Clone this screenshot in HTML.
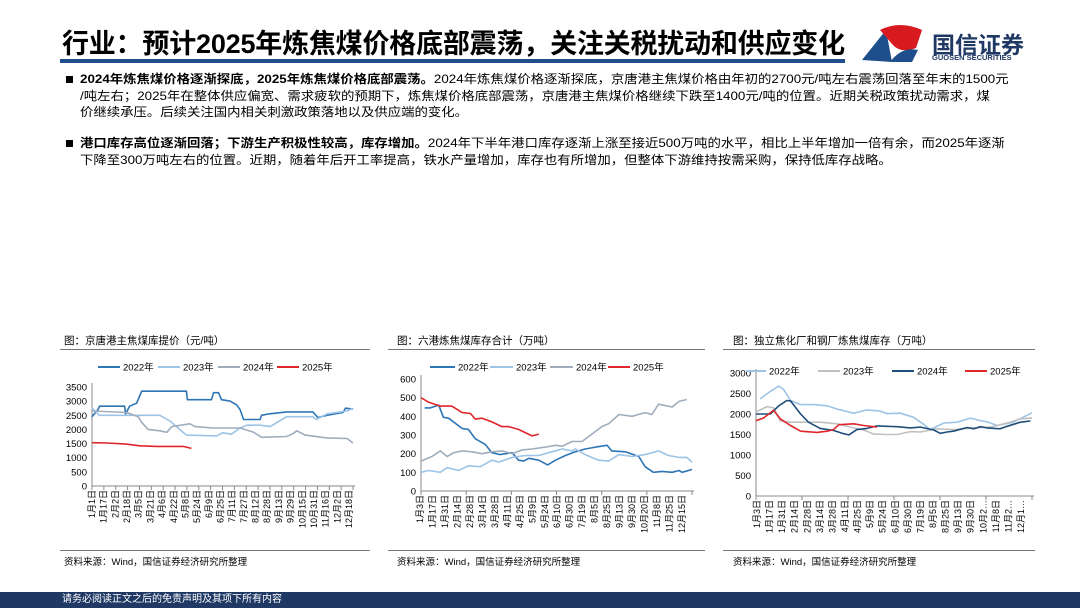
<!DOCTYPE html>
<html><head><meta charset="utf-8">
<style>
body{margin:0;width:1080px;height:608px;overflow:hidden;background:#fff;font-family:"Liberation Sans","Noto Sans CJK SC",sans-serif;position:relative;color:#000}
.abs{position:absolute}
#title{left:62px;top:22px;font-size:27px;font-weight:bold;letter-spacing:-0.2px;white-space:nowrap}
#rule{left:60px;top:59px;width:785px;height:4px;background:#1f4e8c}
.para{left:80px;font-size:12px;line-height:16.5px;white-space:nowrap;transform:scaleX(1.115);transform-origin:0 0}
.bullet{width:7px;height:7px;background:#000;left:66px}
.ctitle{font-size:10.5px;top:333px;white-space:nowrap}
.hl{height:1px;background:#777}
.src{font-size:9.5px;top:554px;white-space:nowrap}
#footer{left:0;top:592px;width:1080px;height:16px;background:#1f3864;color:#fff;font-size:10px;line-height:16px}
svg text{font-family:"Liberation Sans","Noto Sans CJK SC",sans-serif}
</style></head><body>
<div class="abs" id="title">行业：预计2025年炼焦煤价格底部震荡，关注关税扰动和供应变化</div>
<div class="abs" id="rule"></div>
<svg class="abs" style="left:860px;top:22px" width="70" height="42">
<path d="M2 38 L26 8 L32 40 Z" fill="#1f4e8c"/><path d="M20 8 Q40 -2 62 8 L56 26 Q40 32 32 22 Z" fill="#d71920"/><path d="M30 40 Q42 24 58 28 L52 40 Z" fill="#1f4e8c"/>
</svg>
<div class="abs" style="left:932px;top:26px;font-size:23px;font-weight:bold;color:#1f3864">国信证券</div>
<div class="abs" style="left:932px;top:53px;font-size:7.5px;font-weight:bold;color:#1f3864">GUOSEN SECURITIES</div>

<div class="abs bullet" style="top:76px"></div>
<div class="abs para" style="top:71px"><b>2024年炼焦煤价格逐渐探底，2025年炼焦煤价格底部震荡。</b>2024年炼焦煤价格逐渐探底，京唐港主焦煤价格由年初的2700元/吨左右震荡回落至年末的1500元<br>/吨左右；2025年在整体供应偏宽、需求疲软的预期下，炼焦煤价格底部震荡，京唐港主焦煤价格继续下跌至1400元/吨的位置。近期关税政策扰动需求，煤<br>价继续承压。后续关注国内相关刺激政策落地以及供应端的变化。</div>
<div class="abs bullet" style="top:140px"></div>
<div class="abs para" style="top:135px"><b>港口库存高位逐渐回落；下游生产积极性较高，库存增加。</b>2024年下半年港口库存逐渐上涨至接近500万吨的水平，相比上半年增加一倍有余，而2025年逐渐<br>下降至300万吨左右的位置。近期，随着年后开工率提高，铁水产量增加，库存也有所增加，但整体下游维持按需采购，保持低库存战略。</div>

<div class="abs ctitle" style="left:64px">图：京唐港主焦煤库提价（元/吨）</div>
<div class="abs ctitle" style="left:397px">图：六港炼焦煤库存合计（万吨）</div>
<div class="abs ctitle" style="left:733px">图：独立焦化厂和钢厂炼焦煤库存（万吨）</div>
<div class="abs hl" style="left:60px;top:349px;width:310px"></div>
<div class="abs hl" style="left:388px;top:349px;width:317px"></div>
<div class="abs hl" style="left:723px;top:349px;width:312px"></div>
<div class="abs hl" style="left:60px;top:550px;width:310px"></div>
<div class="abs hl" style="left:388px;top:550px;width:317px"></div>
<div class="abs hl" style="left:723px;top:550px;width:312px"></div>
<div class="abs src" style="left:64px">资料来源：Wind，国信证券经济研究所整理</div>
<div class="abs src" style="left:397px">资料来源：Wind，国信证券经济研究所整理</div>
<div class="abs src" style="left:733px">资料来源：Wind，国信证券经济研究所整理</div>

<svg class="abs" id="charts" style="left:0;top:0" width="1080" height="608"></svg>
<div class="abs" id="footer"><span style="margin-left:62px">请务必阅读正文之后的免责声明及其项下所有内容</span></div>

<script>
const seriesNames=["2022年","2023年","2024年","2025年"];
// Chart 1: price (week-of-year, value)
const c1Labels=["1月1日","1月17日","2月2日","2月18日","3月5日","3月21日","4月6日","4月22日","5月8日","5月24日","6月9日","6月25日","7月11日","7月27日","8月12日","8月28日","9月13日","9月29日","10月15日","10月31日","11月16日","12月2日","12月18日"];
const c1Ticks=[0,500,1000,1500,2000,2500,3000,3500];
const c1W2022=[0,1.2,1.5,6.5,6.7,7.5,8.9,9.9,18.8,19,23.8,24.2,25.2,25.8,27.5,28.8,29.5,30.2,33.5,33.8,35.2,38.8,44,45,46.8,50,50.5,52];
const c1V2022=[2450,2700,2820,2820,2550,2820,2930,3350,3350,3050,3050,3300,3300,3050,3000,2870,2700,2350,2350,2500,2550,2620,2620,2420,2500,2600,2750,2720];
const c1W2023=[0,1.5,13.5,15.5,16.5,18.8,24.8,26,27.8,29.5,30.8,33.5,35.5,38.8,44,44.7,46.8,50.8,52];
const c1V2023=[2750,2500,2500,2300,2150,1800,1770,1880,1830,2050,2150,2150,2100,2450,2450,2350,2550,2650,2750];
const c1W2024=[0,6.9,9.2,9.9,11.2,13.5,14.9,15.9,19.5,20.5,24.2,29.5,32.2,33.8,38.8,40,40.8,42.5,46.8,50.8,52];
const c1V2024=[2650,2600,2450,2250,2000,1950,1900,2100,2200,2100,2050,2050,1900,1720,1750,1850,1950,1800,1700,1680,1520];
const c1W2025=[0,2.9,6.9,9.5,12.9,18.2,19.8];
const c1V2025=[1530,1520,1480,1420,1400,1400,1330];
// Chart 2: six-port inventory
const c2Labels=["1月3日","1月17日","1月31日","2月14日","2月28日","3月14日","3月28日","4月11日","4月25日","5月9日","5月24日","6月10日","6月30日","7月19日","8月5日","8月25日","9月13日","9月30日","10月20日","11月8日","11月25日","12月15日"];
const c2Ticks=[0,100,200,300,400,500,600];
const c2W2022=[0.7,1.8,3.4,4.3,5.3,7.9,9.1,10.4,12.3,13.6,15.2,17.5,18.7,19.7,20.7,22.6,24.3,25.8,27.7,29.6,31.5,33.5,35.7,36.6,39.2,41.8,43,44.6,46.3,48.2,49.5,50.1,52];
const c2V2022=[445,445,460,395,390,335,330,280,250,205,195,205,165,160,175,165,140,165,190,210,225,235,245,215,210,185,130,100,105,100,110,100,115];
const c2W2023=[0,1.5,3.7,5,7.2,9.1,11.4,13.6,14.9,17.5,20,22.6,25.1,27.1,29,29.6,31.5,34.1,36,38,40.5,43,45.6,47.5,49.5,51,52];
const c2V2023=[100,110,100,125,110,135,130,165,155,180,190,190,210,225,215,225,195,165,160,195,185,195,215,190,180,180,155];
const c2W2024=[0,2.1,3.7,5,6.3,7.9,9.8,11.7,13.6,15.5,17.5,19.4,21.3,23.9,25.8,27.1,29,30.9,32.8,34.7,36,38,40.5,43,44.3,45.6,48.2,49.5,51];
const c2V2024=[160,185,215,185,205,215,210,200,210,215,200,220,225,235,245,240,265,265,305,345,360,410,400,420,410,465,450,480,490];
const c2W2025=[0,1.5,3.7,5.9,7.9,9.5,10.4,11.7,13.6,15.5,16.8,18.7,21.3,22.6];
const c2V2025=[500,475,455,455,420,415,385,390,370,345,345,330,295,305];
// Chart 3: coking plants & mills inventory
const c3Labels=["1月3日","1月17日","1月31日","2月14日","2月28日","3月14日","3月28日","4月11日","4月25日","5月9日","5月24日","6月10日","6月30日","7月19日","8月5日","8月25日","9月13日","9月30日","10月2…","11月8日","11月2…","12月1…"];
const c3Ticks=[0,500,1000,1500,2000,2500,3000];
const c3W2022=[0.8,2.7,4.3,5.2,6.5,8.4,10.9,13.4,15.3,18.4,20.9,23.4,24.7,27.2,29.7,31.6,32.8,35.4,37.9,40.4,42.3,43.5,45.4,48.5,52];
const c3V2022=[2370,2550,2680,2600,2330,2230,2230,2200,2120,2020,2100,2070,2010,2020,1920,1750,1620,1780,1800,1900,1840,1810,1720,1800,2030];
const c3W2023=[0,2.1,3.3,4.6,6.5,9,12.1,15.3,17.8,20.3,22.2,24.7,26.6,29.1,31,34.1,37.2,41,44.2,47.3,49.8,52];
const c3V2023=[2050,2180,2150,1830,1800,1800,1800,1760,1680,1610,1510,1500,1500,1570,1560,1640,1620,1660,1680,1780,1880,1900];
const c3W2024=[0,2.7,4.3,5.8,6.5,8.4,9.9,12.1,14.6,16.5,17.5,19,20.9,22.8,26.6,29.1,31,33.5,34.7,36,37.2,39.8,41,42.3,43.5,46,47.3,49.8,51.7];
const c3V2024=[2000,2000,2200,2330,2320,2000,1800,1650,1600,1520,1490,1620,1650,1710,1690,1660,1680,1610,1530,1560,1580,1670,1640,1690,1660,1640,1700,1800,1830];
const c3W2025=[0,1.4,3.3,4.6,6.5,8.4,11.5,13.4,14.6,15.6,18.4,20.3,22.8];
const c3V2025=[1840,1900,2090,1880,1720,1580,1550,1580,1620,1740,1760,1720,1680];

const NS="http://www.w3.org/2000/svg";
const root=document.getElementById('charts');
function mk(tag,attrs,parent){const e=document.createElementNS(NS,tag);for(const k in attrs)e.setAttribute(k,attrs[k]);(parent||root).appendChild(e);return e;}

function drawChart(cfg){
  const g=mk('g',{});
  
  
  const maxY=cfg.ticks[cfg.ticks.length-1];
  const xs=w=>cfg.L+w/52*(cfg.R-cfg.L);
  const ys=v=>cfg.B-v/maxY*(cfg.B-cfg.T);
  cfg.ticks.forEach(t=>{
    const tx=mk('text',{x:cfg.L-5,y:ys(t)+3.5,'text-anchor':'end','font-size':'9.5',fill:'#000'},g);
    tx.textContent=t;
    
    
  });
  mk('line',{x1:cfg.L,y1:cfg.T-4,x2:cfg.L,y2:cfg.B,stroke:'#888','stroke-width':1},g);
  mk('line',{x1:cfg.L,y1:cfg.B,x2:cfg.R+2,y2:cfg.B,stroke:'#888','stroke-width':1},g);
  const n=cfg.labels.length;
  cfg.labels.forEach((lab,i)=>{
    const x=cfg.lx0+i*(cfg.lx1-cfg.lx0)/(n-1);
    const tx=mk('text',{x:0,y:0,'text-anchor':'end','font-size':'9',fill:'#000',transform:`translate(${x+3},${cfg.B+4}) rotate(-90)`},g);
    tx.textContent=lab;
    
    
  });
  for(let k=0;k<=cfg.nt;k++){const x=cfg.L+k*(cfg.R-cfg.L)/cfg.nt;mk('line',{x1:x,y1:cfg.B,x2:x,y2:cfg.B+4,stroke:'#888'},g);}
  cfg.series.forEach((s,si)=>{
    const pts=s.w.map((w,i)=>xs(w).toFixed(1)+','+ys(s.v[i]).toFixed(1)).join(' ');
    const pl=mk('polyline',{points:pts,fill:'none',stroke:s.c,'stroke-width':1.6,'stroke-linejoin':'round'},g);
    
    
    const lg=cfg.legend[si];
    const ll=mk('line',{x1:lg[0],y1:cfg.ly,x2:lg[1],y2:cfg.ly,stroke:s.c,'stroke-width':2},g);
    
    
    const lt=mk('text',{x:lg[1]+3,y:cfg.ly+3.5,'font-size':'9.5',fill:'#000'},g);
    lt.textContent=seriesNames[si];
    
    
  });
}
drawChart({name:'chart-coking-coal-price',L:92,R:353,T:387,B:486,ticks:c1Ticks,labels:c1Labels,lx0:92,lx1:349,nt:22,ly:367,
  legend:[[98,120],[158,180],[218,240],[277,299]],
  series:[{w:c1W2022,v:c1V2022,c:'#2e75b6'},{w:c1W2023,v:c1V2023,c:'#9dc3e6'},{w:c1W2024,v:c1V2024,c:'#9fadbd'},{w:c1W2025,v:c1V2025,c:'#e0262b'}]});
drawChart({name:'chart-port-inventory',L:421,R:692,T:379,B:491,ticks:c2Ticks,labels:c2Labels,lx0:420,lx1:682,nt:6,ly:367,
  legend:[[430,455],[490,513],[550,573],[608,630]],
  series:[{w:c2W2022,v:c2V2022,c:'#2e75b6'},{w:c2W2023,v:c2V2023,c:'#9dc3e6'},{w:c2W2024,v:c2V2024,c:'#9fadbd'},{w:c2W2025,v:c2V2025,c:'#e0262b'}]});
drawChart({name:'chart-plant-inventory',L:756,R:1032,T:373,B:496,ticks:c3Ticks,labels:c3Labels,lx0:757,lx1:1021,nt:6,ly:371,
  legend:[[746,766],[818,840],[892,914],[965,987]],
  series:[{w:c3W2022,v:c3V2022,c:'#9dc3e6'},{w:c3W2023,v:c3V2023,c:'#c0c0c0'},{w:c3W2024,v:c3V2024,c:'#1f4e79'},{w:c3W2025,v:c3V2025,c:'#e0262b'}]});
</script>
</body></html>
